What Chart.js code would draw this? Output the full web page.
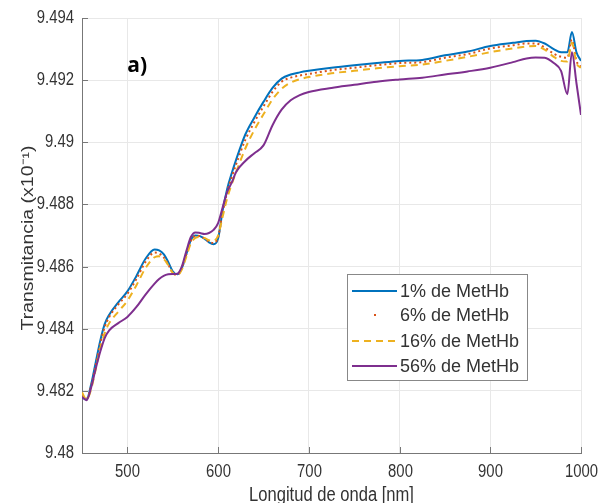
<!DOCTYPE html>
<html>
<head>
<meta charset="utf-8">
<script src="https://cdn.jsdelivr.net/npm/chart.js@4.4.0/dist/chart.umd.min.js"></script>
<style>
  body { margin: 0; background: #fff; }
  canvas { display: block; }
</style>
</head>
<body>
<canvas id="spectra" width="599" height="503"></canvas>
<script>
// wavelength samples (nm)
var wavelengths = [450,455,460,465,470,475,480,490,500,510,520,530,535,540,545,550,555,560,565,570,575,580,585,590,595,600,605,610,615,620,630,640,650,660,670,680,690,700,725,750,775,800,825,850,875,900,925,940,950,960,970,978,985,990,995,1000];

// transmittance (x10^-1) per MetHb level
var metHb1 = [9.48180,9.48172,9.48220,9.48290,9.48360,9.48415,9.48445,9.48485,9.48520,9.48570,9.48625,9.48655,9.48652,9.48640,9.48615,9.48585,9.48575,9.48595,9.48640,9.48685,9.48700,9.48698,9.48690,9.48678,9.48672,9.48690,9.48780,9.48850,9.48900,9.48945,9.49025,9.49080,9.49130,9.49175,9.49205,9.49218,9.49225,9.49230,9.49240,9.49248,9.49255,9.49262,9.49265,9.49280,9.49292,9.49310,9.49320,9.49326,9.49327,9.49318,9.49300,9.49290,9.49290,9.49355,9.49290,9.49262];
var metHb6 = [9.48182,9.48175,9.48215,9.48282,9.48350,9.48405,9.48438,9.48478,9.48512,9.48560,9.48615,9.48645,9.48642,9.48630,9.48607,9.48580,9.48573,9.48595,9.48640,9.48683,9.48698,9.48698,9.48690,9.48680,9.48676,9.48695,9.48775,9.48840,9.48888,9.48930,9.49008,9.49065,9.49115,9.49162,9.49195,9.49208,9.49215,9.49220,9.49232,9.49240,9.49248,9.49255,9.49258,9.49272,9.49284,9.49302,9.49312,9.49318,9.49318,9.49305,9.49285,9.49275,9.49272,9.49330,9.49262,9.49242];
var metHb16 = [9.48195,9.48172,9.48205,9.48268,9.48335,9.48385,9.48418,9.48455,9.48490,9.48540,9.48595,9.48630,9.48633,9.48625,9.48605,9.48580,9.48572,9.48590,9.48632,9.48675,9.48692,9.48695,9.48692,9.48685,9.48683,9.48700,9.48760,9.48820,9.48865,9.48905,9.48980,9.49040,9.49090,9.49138,9.49172,9.49192,9.49203,9.49210,9.49222,9.49230,9.49238,9.49245,9.49250,9.49262,9.49275,9.49290,9.49302,9.49308,9.49310,9.49298,9.49275,9.49262,9.49260,9.49320,9.49255,9.49240];
var metHb56 = [9.48180,9.48170,9.48210,9.48270,9.48325,9.48370,9.48395,9.48418,9.48438,9.48470,9.48510,9.48545,9.48560,9.48570,9.48575,9.48576,9.48577,9.48600,9.48650,9.48695,9.48710,9.48708,9.48705,9.48708,9.48718,9.48740,9.48790,9.48840,9.48870,9.48905,9.48940,9.48965,9.48990,9.49055,9.49105,9.49135,9.49152,9.49162,9.49175,9.49185,9.49195,9.49202,9.49208,9.49218,9.49228,9.49240,9.49258,9.49270,9.49273,9.49272,9.49255,9.49230,9.49155,9.49290,9.49190,9.49088];

var seriesNames = ['1% de MetHb','6% de MetHb','16% de MetHb','56% de MetHb'];
var xTicks = [500,600,700,800,900,1000];
var yTicks = [9.48,9.482,9.484,9.486,9.488,9.49,9.492,9.494];
var xTitle = 'Longitud de onda [nm]';
var yTitle = 'Transmitancia (x10\u207B\u00B9)';

var textColor = '#333333';
var fontFam = '"Liberation Sans", Arial, Helvetica, sans-serif';
var squeeze = 0.85; // the reference text is narrower than Arial

function toPoints(vals) {
    return vals.map(function (v, i) { return {x: wavelengths[i], y: v}; });
}

function makeDataset(label, vals, color, dash, order) {
    return {
        label: label,
        data: toPoints(vals),
        borderColor: color,
        backgroundColor: color,
        borderWidth: 2,
        borderDash: dash,
        pointRadius: 0,
        fill: false,
        cubicInterpolationMode: 'monotone',
        order: order
    };
}

// text drawn narrower on the horizontal axis
function narrowText(ctx, text, x, y, align, baseline, size, rotate) {
    ctx.save();
    ctx.translate(x, y);
    if (rotate) {
        ctx.rotate(-Math.PI / 2);
        ctx.scale(1, squeeze);
    } else {
        ctx.scale(squeeze, 1);
    }
    ctx.font = size + 'px ' + fontFam;
    ctx.fillStyle = textColor;
    ctx.textAlign = align;
    ctx.textBaseline = baseline;
    ctx.fillText(text, 0, 0);
    ctx.restore();
}

// axis labels, inward tick marks, the "a)" label and the boxed legend
var extras = {
    id: 'extras',
    afterDraw: function (chart) {
        var ctx = chart.ctx, area = chart.chartArea;
        var xs = chart.scales.x, ys = chart.scales.y;
        ctx.save();
        ctx.strokeStyle = '#777';
        ctx.lineWidth = 1;
        xTicks.forEach(function (t) {
            var px = Math.round(xs.getPixelForValue(t)) + 0.5;
            ctx.beginPath(); ctx.moveTo(px, area.bottom); ctx.lineTo(px, area.bottom - 6); ctx.stroke();
            narrowText(ctx, String(t), px, 472, 'center', 'middle', 17.5, false);
        });
        yTicks.forEach(function (t) {
            var py = Math.round(ys.getPixelForValue(t)) + 0.5;
            ctx.beginPath(); ctx.moveTo(area.left, py); ctx.lineTo(area.left + 6, py); ctx.stroke();
            narrowText(ctx, String(parseFloat(t.toFixed(3))), 74, py, 'right', 'middle', 17.5, false);
        });
        narrowText(ctx, xTitle, (area.left + area.right) / 2, 501, 'center', 'alphabetic', 19.5, false);
        narrowText(ctx, yTitle, 33, 238, 'center', 'alphabetic', 19.5, true);

        ctx.fillStyle = '#000';
        ctx.font = 'bold 21px "Open Sans", "DejaVu Sans", sans-serif';
        ctx.textBaseline = 'middle';
        ctx.textAlign = 'left';
        ctx.fillText('a)', xs.getPixelForValue(500), ys.getPixelForValue(9.49245));

        // legend box
        var bx = 347, by = 274, bw = 180, bh = 106;
        ctx.fillStyle = '#fff';
        ctx.fillRect(bx, by, bw, bh);
        ctx.strokeStyle = '#888';
        ctx.strokeRect(bx + 0.5, by + 0.5, bw, bh);
        var rows = [291, 315, 341, 366];
        ctx.font = '18px ' + fontFam;
        chart.data.datasets.forEach(function (ds, i) {
            var y = rows[i];
            ctx.strokeStyle = ds.borderColor;
            ctx.lineWidth = 2;
            if (i === 1) {
                ctx.fillStyle = ds.borderColor;
                ctx.fillRect(374, y - 1, 2, 2);
            } else {
                ctx.setLineDash(ds.borderDash || []);
                ctx.beginPath(); ctx.moveTo(352, y); ctx.lineTo(397, y); ctx.stroke();
                ctx.setLineDash([]);
            }
            ctx.fillStyle = textColor;
            ctx.fillText(seriesNames[i], 400, y + 1);
        });
        ctx.restore();
    }
};

var ctx = document.getElementById('spectra').getContext('2d');
var chart = new Chart(ctx, {
    type: 'line',
    data: {
        datasets: [
            makeDataset(seriesNames[0], metHb1, '#0072BD', [], 4),
            makeDataset(seriesNames[1], metHb6, '#D95319', [2, 3], 3),
            makeDataset(seriesNames[2], metHb16, '#EDB120', [7, 5], 2),
            makeDataset(seriesNames[3], metHb56, '#7E2F8E', [], 1)
        ]
    },
    options: {
        responsive: false,
        animation: false,
        layout: { padding: { top: 18, right: 18, left: 0, bottom: 0 } },
        plugins: { legend: { display: false }, tooltip: { enabled: false } },
        scales: {
            x: {
                type: 'linear',
                min: 450,
                max: 1000,
                afterBuildTicks: function (s) { s.ticks = xTicks.map(function (v) { return {value: v}; }); },
                afterFit: function (s) { s.height = 50; },
                grid: { color: '#e8e8e8', drawTicks: false },
                border: { display: true, color: '#777' },
                ticks: { display: false }
            },
            y: {
                min: 9.48,
                max: 9.494,
                afterBuildTicks: function (s) { s.ticks = yTicks.map(function (v) { return {value: v}; }); },
                afterFit: function (s) { s.width = 82; },
                grid: { color: '#e8e8e8', drawTicks: false },
                border: { display: true, color: '#777' },
                ticks: { display: false }
            }
        }
    },
    plugins: [extras]
});
</script>
</body>
</html>
